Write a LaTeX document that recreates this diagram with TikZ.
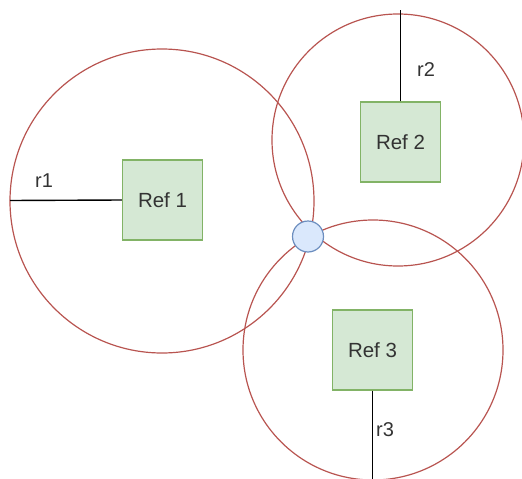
\documentclass[tikz,border=0pt]{standalone}
\usepackage{fontspec}
\setmainfont{Liberation Sans}
\definecolor{redline}{HTML}{B85450}
\definecolor{greenfill}{HTML}{D5E8D4}
\definecolor{greenline}{HTML}{82B366}
\definecolor{bluefill}{HTML}{DAE8FC}
\definecolor{blueline}{HTML}{6C8EBF}
\definecolor{txt}{HTML}{333333}
\begin{document}
\begin{tikzpicture}[x=1pt,y=-1pt,
  refbox/.style={draw=greenline,fill=greenfill,line width=1.2pt,minimum width=80pt,minimum height=80pt,inner sep=0pt,font=\fontsize{20.5}{24}\selectfont,text=txt},
  rangecircle/.style={draw=redline,line width=1.2pt},
  radiusline/.style={draw=black,line width=1.4pt},
  lbl/.style={font=\fontsize{20}{24}\selectfont,text=txt,inner sep=0pt}]
\useasboundingbox (0,0) rectangle (522,479);
% range circles
\draw[rangecircle] (162,201) circle[radius=152];
\draw[rangecircle] (398,140) circle[radius=126];
\draw[rangecircle] (373,350) circle[radius=130];
% boxes
\node[refbox] (ref1) at (162.5,200) {Ref 1};
\node[refbox] (ref2) at (400.5,142) {Ref 2};
\node[refbox] (ref3) at (372.5,350) {Ref 3};
% target
\node[draw=blueline,fill=bluefill,circle,minimum size=31pt,inner sep=0pt,line width=1.2pt] (tgt) at (308,236.5) {};
% radius lines
\coordinate (e1) at (10,200.5);
\coordinate (e2) at (400.5,10);
\coordinate (e3) at (372.5,479);
\draw[radiusline] (ref1.west) -- (e1);
\draw[radiusline] (ref2.north) -- (e2);
\draw[radiusline] (ref3.south) -- (e3);
% labels
\node[lbl] (l1) at (44,181) {r1};
\node[lbl] (l2) at (426,70) {r2};
\node[lbl] (l3) at (385,430) {r3};
\end{tikzpicture}
\end{document}
